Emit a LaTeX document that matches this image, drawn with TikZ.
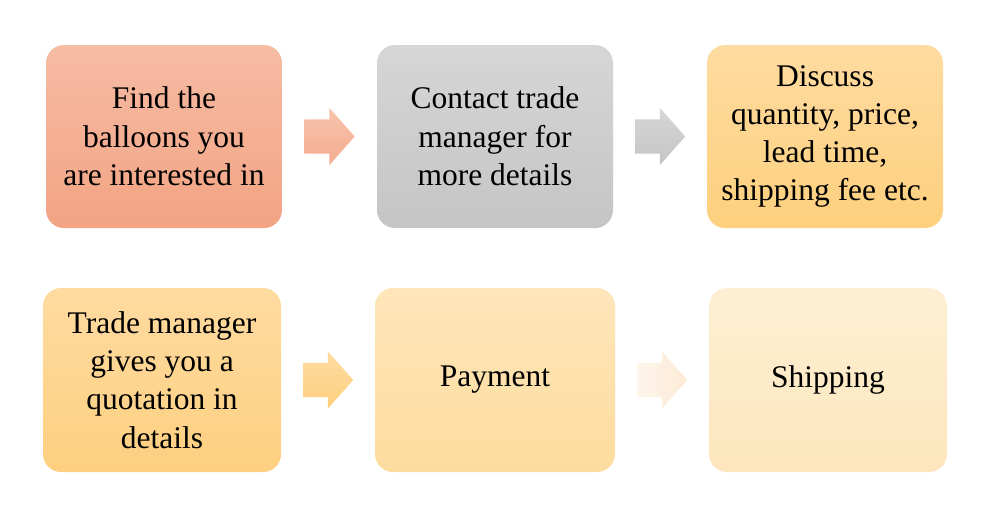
\documentclass[tikz,border=0pt]{standalone}
\usepackage{fontspec}
\setmainfont{Liberation Serif}
\usetikzlibrary{shapes.arrows,calc}
\definecolor{salT}{HTML}{F6BCA4}
\definecolor{salB}{HTML}{F3A383}
\definecolor{grT}{HTML}{D6D6D6}
\definecolor{grB}{HTML}{C5C5C5}
\definecolor{orT}{HTML}{FEDBA0}
\definecolor{orB}{HTML}{FED07E}
\definecolor{o2T}{HTML}{FEDBA0}
\definecolor{o2B}{HTML}{FECF80}
\definecolor{o3T}{HTML}{FEE6BA}
\definecolor{o3B}{HTML}{FDDC9E}
\definecolor{o4T}{HTML}{FEEFD4}
\definecolor{o4B}{HTML}{FDE6BC}
\definecolor{a4L}{HTML}{FEF5EB}
\definecolor{a4R}{HTML}{FCEAD6}
\tikzset{
  stepbox/.style={rounded corners=18pt, inner sep=0pt, align=center,
    font=\fontsize{31.5}{38.3}\selectfont, text=black},
  blockarrow/.style={single arrow, minimum height=50pt, anchor=tail,
    single arrow head extend=11.5pt, single arrow tip angle=97,
    inner xsep=0pt, inner ysep=17pt, single arrow head indent=0pt},
}
\begin{document}
\begin{tikzpicture}[x=1pt,y=-1pt]
\useasboundingbox (0,0) rectangle (1000,525);
\node[stepbox, minimum width=236pt, minimum height=183pt, top color=salT, bottom color=salB] (b1) at (164,136.5) {Find the\\balloons you\\are interested in};
\node[stepbox, minimum width=236pt, minimum height=183pt, top color=grT, bottom color=grB] (b2) at (495,136.5) {Contact trade\\manager for\\more details};
\node[stepbox, minimum width=236pt, minimum height=183pt, top color=orT, bottom color=orB] (b3) at (825,136.5) {Discuss\\quantity, price,\\lead time,\\shipping fee etc.};
\node[stepbox, minimum width=238pt, minimum height=184pt, top color=o2T, bottom color=o2B] (b4) at (162,380) {Trade manager\\gives you a\\quotation in\\details};
\node[stepbox, minimum width=240pt, minimum height=184pt, top color=o3T, bottom color=o3B] (b5) at (495,380) {\raisebox{-3pt}{Payment}};
\node[stepbox, minimum width=238pt, minimum height=184pt, top color=o4T, bottom color=o4B] (b6) at (828,380) {\raisebox{-3pt}{Shipping}};
\node[blockarrow, top color=salT!90!white, bottom color=salB!90!white] (a1) at ($(b1.east)!0.5!(b2.west)+(-25,0)$) {};
\node[blockarrow, top color=grT, bottom color=grB] (a2) at ($(b2.east)!0.5!(b3.west)+(-25,0)$) {};
\node[blockarrow, top color=orT, bottom color=orB] (a3) at ($(b4.east)!0.5!(b5.west)+(-25,0)$) {};
\node[blockarrow, left color=a4L, right color=a4R] (a4) at ($(b5.east)!0.5!(b6.west)+(-25,0)$) {};
\end{tikzpicture}
\end{document}
